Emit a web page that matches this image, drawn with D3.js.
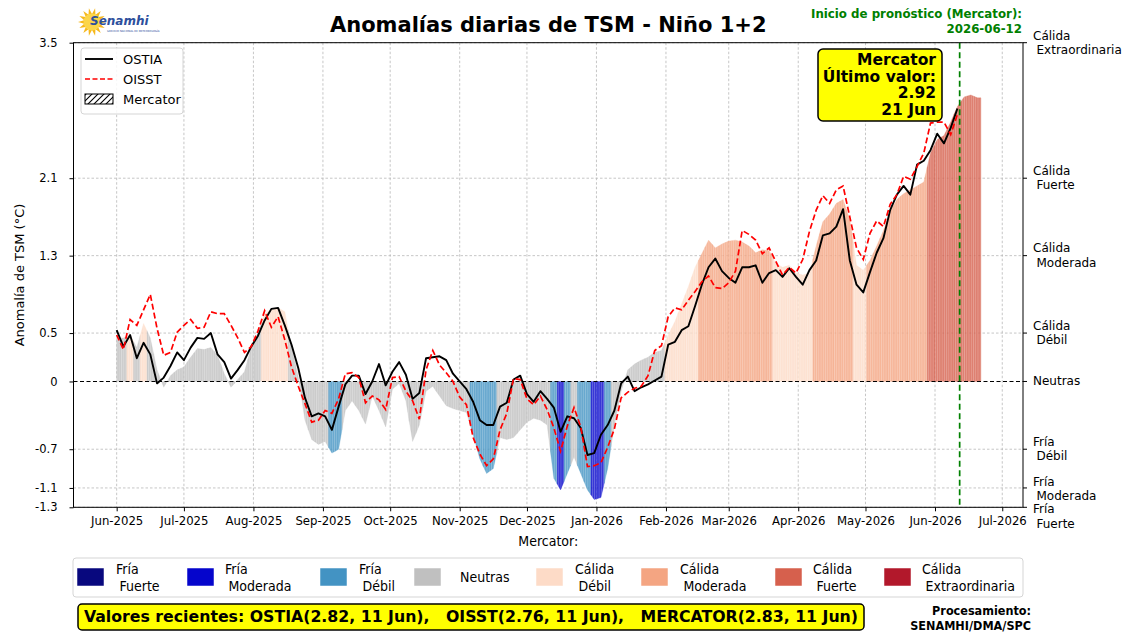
<!DOCTYPE html>
<html>
<head>
<meta charset="utf-8">
<script src="https://cdn.jsdelivr.net/npm/d3@7"></script>
<style>
  body { margin: 0; background: #fff; }
  svg text { font-family: "DejaVu Sans", sans-serif; fill: #000; }
  .cond { font-family: "DejaVu Sans Condensed", "DejaVu Sans", sans-serif; font-stretch: condensed; }
</style>
</head>
<body>
<svg id="chart" width="1125" height="632"></svg>
<script>
// ---- data (one sample every 3 days, starting 2025-06-01) ----
const startDate = Date.UTC(2025, 5, 1);
const stepDays = 3;

const ostia = [
  0.53, 0.36, 0.48, 0.24, 0.40, 0.28, -0.02, 0.04, 0.16, 0.30,
  0.22, 0.35, 0.45, 0.44, 0.50, 0.28, 0.20, 0.03, 0.12, 0.22,
  0.36, 0.47, 0.63, 0.75, 0.76, 0.58, 0.38, 0.14, -0.17, -0.36,
  -0.33, -0.36, -0.50, -0.26, -0.03, 0.06, 0.06, -0.13, 0.00, 0.18,
  -0.04, 0.10, 0.20, 0.07, -0.18, -0.12, 0.24, 0.25, 0.26, 0.22,
  0.08, 0.00, -0.08, -0.21, -0.40, -0.45, -0.45, -0.26, -0.22, 0.02,
  0.06, -0.13, -0.21, -0.10, -0.18, -0.27, -0.52, -0.36, -0.38, -0.48,
  -0.76, -0.74, -0.55, -0.45, -0.30, -0.02, 0.05, -0.10, -0.06, -0.03,
  0.01, 0.05, 0.38, 0.41, 0.53, 0.57, 0.78, 1.00, 1.18, 1.27,
  1.14, 1.07, 1.02, 1.18, 1.18, 1.20, 1.02, 1.12, 1.15, 1.08,
  1.17, 1.08, 1.00, 1.15, 1.25, 1.51, 1.53, 1.60, 1.78, 1.25,
  1.00, 0.92, 1.13, 1.33, 1.48, 1.77, 1.93, 2.02, 1.93, 2.24,
  2.28, 2.39, 2.56, 2.46, 2.62, 2.82
];

const oisst = [
  0.48, 0.33, 0.64, 0.58, 0.74, 0.90, 0.55, 0.27, 0.30, 0.51,
  0.58, 0.64, 0.55, 0.56, 0.72, 0.70, 0.70, 0.58, 0.45, 0.30,
  0.36, 0.52, 0.73, 0.56, 0.67, 0.43, 0.15, -0.05, -0.23, -0.42,
  -0.40, -0.30, -0.33, -0.18, 0.08, 0.09, 0.04, -0.22, -0.15, -0.19,
  -0.29, 0.04, 0.05, -0.10, -0.20, -0.39, 0.12, 0.32, 0.17, 0.09,
  0.00, -0.16, -0.24, -0.58, -0.75, -0.87, -0.80, -0.50, -0.33, 0.03,
  0.02, -0.18, -0.24, -0.15, -0.29, -0.48, -0.72, -0.46, -0.27, -0.47,
  -0.88, -0.87, -0.84, -0.68, -0.49, -0.17, -0.11, -0.07, -0.05, 0.06,
  0.32, 0.37, 0.67, 0.76, 0.74, 0.84, 0.93, 1.03, 1.09, 0.97,
  0.96, 1.02, 1.14, 1.56, 1.52, 1.46, 1.32, 1.38, 1.24, 1.10,
  1.18, 1.12, 1.26, 1.55, 1.77, 1.92, 1.84, 1.98, 2.02, 1.70,
  1.38, 1.26, 1.53, 1.66, 1.60, 1.83, 1.93, 2.12, 2.09, 2.22,
  2.36, 2.67, 2.68, 2.68, 2.55, 2.76
];

const mercator = [
  0.45, 0.45, 0.48, 0.35, 0.60, 0.45, 0.12, -0.06, 0.06, 0.12,
  0.15, 0.25, 0.34, 0.33, 0.35, 0.27, 0.08, -0.06, 0.02, 0.10,
  0.35, 0.50, 0.70, 0.74, 0.76, 0.72, 0.35, 0.05, -0.40, -0.60,
  -0.65, -0.62, -0.74, -0.70, -0.30, -0.20, -0.30, -0.44, -0.15, -0.30,
  -0.47, -0.08, -0.02, -0.20, -0.62, -0.45, -0.10, -0.05, -0.15, -0.25,
  -0.28, -0.30, -0.32, -0.55, -0.80, -0.95, -0.90, -0.58, -0.60, -0.58,
  -0.50, -0.42, -0.38, -0.40, -0.45, -1.00, -1.12, -0.95, -0.78, -0.95,
  -1.12, -1.22, -1.20, -0.90, -0.45, -0.10, 0.12, 0.18, 0.22, 0.25,
  0.30, 0.32, 0.48, 0.62, 0.80, 0.98, 1.18, 1.32, 1.46, 1.38,
  1.42, 1.45, 1.46, 1.44, 1.40, 1.33, 1.36, 1.35, 1.22, 1.18,
  1.20, 1.12, 1.10, 1.12, 1.40, 1.65, 1.73, 1.84, 1.88, 1.67,
  1.20, 1.15, 1.25, 1.40, 1.56, 1.75, 1.88, 1.94, 1.98, 2.02,
  2.06, 2.36, 2.50, 2.54, 2.68, 2.84, 2.94, 2.96, 2.93
];

// category index of each Mercator bar (0 = Fría Fuerte ... 7 = Cálida Extraordinaria)
const mercatorCat = [
  3, 3, 4, 3, 4, 3, 3, 3, 3, 3,
  3, 3, 3, 3, 3, 3, 3, 3, 3, 3,
  3, 3, 4, 4, 4, 4, 3, 3, 3, 3,
  3, 3, 2, 2, 3, 3, 3, 3, 3, 3,
  3, 3, 3, 3, 3, 3, 3, 3, 3, 3,
  3, 3, 3, 2, 2, 2, 2, 3, 3, 3,
  3, 3, 3, 3, 3, 2, 1, 2, 3, 2,
  2, 1, 1, 2, 3, 3, 3, 3, 3, 3,
  3, 3, 4, 4, 4, 4, 4, 5, 5, 5,
  5, 5, 5, 5, 5, 5, 5, 5, 4, 4,
  4, 4, 4, 4, 5, 5, 5, 5, 5, 5,
  4, 4, 5, 5, 5, 5, 5, 5, 5, 5,
  5, 6, 6, 6, 6, 6, 6, 6, 6
];

const catNames = [
  ["Fría", "Fuerte"], ["Fría", "Moderada"], ["Fría", "Débil"], ["Neutras"],
  ["Cálida", "Débil"], ["Cálida", "Moderada"], ["Cálida", "Fuerte"], ["Cálida", "Extraordinaria"]
];
const catColors = ["#08087e", "#0505cc", "#4393c3", "#c0c0c0", "#fddbc7", "#f4a582", "#d6604d", "#b2182b"];

const yTicks = [3.5, 2.1, 1.3, 0.5, 0, -0.7, -1.1, -1.3];
const rightLabels = [
  ["Cálida", "Extraordinaria"], ["Cálida", "Fuerte"], ["Cálida", "Moderada"], ["Cálida", "Débil"],
  ["Neutras"], ["Fría", "Débil"], ["Fría", "Moderada"], ["Fría", "Fuerte"]
];
const forecastStart = Date.UTC(2026, 5, 12);
const lastMercator = { value: 2.92, label: "21 Jun" };
const recentText = "Valores recientes: OSTIA(2.82, 11 Jun),   OISST(2.76, 11 Jun),   MERCATOR(2.83, 11 Jun)";

// ---- layout ----
const DAY = 864e5;
const plotL = 73.5, plotR = 1023, plotT = 42.7, plotB = 507.3;
const svg = d3.select("#chart");

const x = d3.scaleUtc()
  .domain([new Date(startDate - 19.25 * DAY), new Date(startDate + 404.25 * DAY)])
  .range([plotL, plotR]);
const y = d3.scaleLinear().domain([-1.3, 3.5]).range([plotB, plotT]);
const dayPx = x(new Date(startDate + DAY)) - x(new Date(startDate));
const dateOf = t => new Date(startDate + t * stepDays * DAY);

const monthTicks = d3.utcMonth.range(new Date(startDate), new Date(Date.UTC(2026, 6, 2)));

const defs = svg.append("defs");
// hatch for the Mercator legend patch
const pat = defs.append("pattern").attr("id", "hatch").attr("patternUnits", "userSpaceOnUse")
  .attr("width", 6).attr("height", 6);
pat.append("path").attr("d", "M-1,7 L7,-1 M-4,4 L4,-4 M2,10 L10,2")
  .attr("stroke", "#000").attr("stroke-width", 1.1);
// thin daily stripes over the Mercator bars
const stripes = defs.append("pattern").attr("id", "stripes").attr("patternUnits", "userSpaceOnUse")
  .attr("x", x(new Date(startDate))).attr("width", dayPx).attr("height", 10);
stripes.append("rect").attr("width", 0.55).attr("height", 10).attr("fill", "#fff").attr("fill-opacity", 0.35);

// grid
const grid = svg.append("g");
grid.selectAll("line.gx").data(monthTicks).join("line")
  .attr("x1", d => x(d)).attr("x2", d => x(d)).attr("y1", plotT).attr("y2", plotB)
  .attr("stroke", "#b8b8b8").attr("stroke-width", 0.8).attr("stroke-dasharray", "2.5,2");
grid.selectAll("line.gy").data(yTicks.filter(d => d !== 0)).join("line")
  .attr("x1", plotL).attr("x2", plotR).attr("y1", d => y(d)).attr("y2", d => y(d))
  .attr("stroke", "#b8b8b8").attr("stroke-width", 0.8).attr("stroke-dasharray", "2.5,2");

// Mercator bars: each sample covers its own 3-day slot, top edge joined to its neighbours
const n = mercator.length;
const barShape = i => {
  const v = mercator[i];
  const a = i === 0 ? { t: 0, v } : { t: i - 0.5, v: (mercator[i - 1] + v) / 2 };
  const b = i === n - 1 ? { t: i + 0.5, v } : { t: i + 0.5, v: (mercator[i + 1] + v) / 2 };
  return [a, { t: i, v }, b];
};
const barArea = d3.area().x(p => x(dateOf(p.t))).y0(y(0)).y1(p => y(p.v));
const bars = svg.append("g");
bars.selectAll("path.bar").data(d3.range(n)).join("path").attr("class", "bar")
  .attr("d", i => barArea(barShape(i)))
  .attr("fill", i => catColors[mercatorCat[i]])
  .attr("fill-opacity", 0.8)
  .attr("stroke", i => catColors[mercatorCat[i]]).attr("stroke-opacity", 0.8).attr("stroke-width", 0.3);
bars.selectAll("path.str").data(d3.range(n)).join("path").attr("class", "str")
  .attr("d", i => barArea(barShape(i)))
  .attr("fill", "url(#stripes)");

// zero line
svg.append("line").attr("x1", plotL).attr("x2", plotR).attr("y1", y(0)).attr("y2", y(0))
  .attr("stroke", "#000").attr("stroke-width", 1.1).attr("stroke-dasharray", "4,2.5");

// series lines
const line = d3.line().x((d, i) => x(dateOf(i))).y(d => y(d));
svg.append("path").datum(ostia).attr("d", line)
  .attr("fill", "none").attr("stroke", "#000").attr("stroke-width", 1.9).attr("stroke-linejoin", "round");
svg.append("path").datum(oisst).attr("d", line)
  .attr("fill", "none").attr("stroke", "#ff0000").attr("stroke-width", 1.7).attr("stroke-dasharray", "6,3");

// forecast start line
svg.append("line").attr("x1", x(new Date(forecastStart))).attr("x2", x(new Date(forecastStart)))
  .attr("y1", plotT).attr("y2", plotB)
  .attr("stroke", "#008000").attr("stroke-width", 1.7).attr("stroke-dasharray", "6,3.5");

// frame
svg.append("rect").attr("x", plotL).attr("y", plotT).attr("width", plotR - plotL).attr("height", plotB - plotT)
  .attr("fill", "none").attr("stroke", "#000").attr("stroke-width", 1);

// left axis
const yAxis = svg.append("g").attr("transform", `translate(${plotL},0)`)
  .call(d3.axisLeft(y).tickValues(yTicks).tickSize(4).tickPadding(12).tickFormat(d => String(d)));
yAxis.select(".domain").remove();
yAxis.selectAll("text").attr("font-size", 11.5).attr("fill", "#222");

// right axis (categories); the lowest label sits a little below its tick, as in the source
const rightShift = [0, 0, 0, 0, 0, 0, 1, 9];
const rAxis = svg.append("g").attr("transform", `translate(${plotR},0)`);
rAxis.selectAll("line").data(yTicks).join("line")
  .attr("x1", 0).attr("x2", 4).attr("y1", d => y(d)).attr("y2", d => y(d)).attr("stroke", "#000");
rAxis.selectAll("g.lab").data(yTicks).join("g").attr("class", "lab")
  .each(function (d, i) {
    const lines = rightLabels[i];
    const g = d3.select(this);
    lines.forEach((t, k) => {
      g.append("text")
        .attr("x", 10 + (k > 0 ? 3.5 : 0))
        .attr("y", y(d) + rightShift[i] + (lines.length === 1 ? 0 : (k === 0 ? -7.2 : 7.2)))
        .attr("dominant-baseline", "central")
        .attr("font-size", 12).attr("fill", "#222").text(t);
    });
  });

// bottom axis
const xAxis = svg.append("g").attr("transform", `translate(0,${plotB})`)
  .call(d3.axisBottom(x).tickValues(monthTicks).tickSize(4).tickPadding(4).tickFormat(d3.utcFormat("%b-%Y")));
xAxis.select(".domain").remove();
xAxis.selectAll("text").attr("class", "cond").attr("font-size", 13).attr("fill", "#222");

// axis titles and title
svg.append("text").attr("transform", "translate(19,275) rotate(-90)").attr("text-anchor", "middle")
  .attr("dominant-baseline", "central").attr("font-size", 13).text("Anomalía de TSM (°C)");
svg.append("text").attr("class", "cond").attr("x", (plotL + plotR) / 2).attr("y", 541)
  .attr("text-anchor", "middle").attr("dominant-baseline", "central").attr("font-size", 14).text("Mercator:");
svg.append("text").attr("x", (plotL + plotR) / 2).attr("y", 25).attr("text-anchor", "middle")
  .attr("dominant-baseline", "central").attr("font-size", 21).attr("font-weight", "bold")
  .text("Anomalías diarias de TSM - Niño 1+2");

// forecast label
[["Inicio de pronóstico (Mercator):", 14], ["2026-06-12", 29]].forEach(([t, yy]) => {
  svg.append("text").attr("x", 1022).attr("y", yy).attr("text-anchor", "end")
    .attr("dominant-baseline", "central").attr("font-size", 11.8).attr("font-weight", "bold")
    .style("fill", "#008000").text(t);
});

// last value box
svg.append("rect").attr("x", 818).attr("y", 49).attr("width", 124).attr("height", 72).attr("rx", 5)
  .attr("fill", "#ffff00").attr("stroke", "#000").attr("stroke-width", 1.5);
["Mercator", "Último valor:", lastMercator.value.toFixed(2), lastMercator.label].forEach((t, k) => {
  svg.append("text").attr("x", 936).attr("y", 60 + k * 16.5).attr("text-anchor", "end")
    .attr("dominant-baseline", "central").attr("font-size", 15.5).attr("font-weight", "bold").text(t);
});

// top-left legend
const lg = svg.append("g");
lg.append("rect").attr("x", 81).attr("y", 48).attr("width", 102).attr("height", 66).attr("rx", 3)
  .attr("fill", "#fff").attr("fill-opacity", 0.85).attr("stroke", "#d5d5d5");
lg.append("line").attr("x1", 85).attr("x2", 113).attr("y1", 59).attr("y2", 59).attr("stroke", "#000").attr("stroke-width", 1.9);
lg.append("line").attr("x1", 85).attr("x2", 113).attr("y1", 79).attr("y2", 79).attr("stroke", "#ff0000")
  .attr("stroke-width", 1.7).attr("stroke-dasharray", "5,2.5");
lg.append("rect").attr("x", 85).attr("y", 94).attr("width", 28).attr("height", 10)
  .attr("fill", "url(#hatch)").attr("stroke", "#000").attr("stroke-width", 1);
[["OSTIA", 59], ["OISST", 79], ["Mercator", 99]].forEach(([t, yy]) => {
  lg.append("text").attr("x", 123).attr("y", yy).attr("dominant-baseline", "central")
    .attr("font-size", 13).text(t);
});

// bottom category legend
const bl = svg.append("g");
bl.append("rect").attr("x", 73).attr("y", 558).attr("width", 950).attr("height", 39).attr("rx", 3)
  .attr("fill", "#fff").attr("stroke", "#d5d5d5");
const legSq = [77, 187, 320, 414, 536, 641, 775, 884];
const legTx = [116, 225, 359, 460, 575, 680, 813, 922];
catColors.forEach((c, i) => {
  bl.append("rect").attr("x", legSq[i]).attr("y", 568).attr("width", 27).attr("height", 18)
    .attr("fill", c).attr("stroke", "#fff").attr("stroke-width", 0.5);
  const lines = catNames[i];
  lines.forEach((t, k) => {
    bl.append("text").attr("class", "cond")
      .attr("x", legTx[i] + (k > 0 ? 3.5 : 0))
      .attr("y", lines.length === 1 ? 577 : (k === 0 ? 569 : 586))
      .attr("dominant-baseline", "central").attr("font-size", 14).text(t);
  });
});

// recent values box
svg.append("rect").attr("x", 78).attr("y", 604).attr("width", 786).attr("height", 26).attr("rx", 4)
  .attr("fill", "#ffff00").attr("stroke", "#000").attr("stroke-width", 1.5);
svg.append("text").attr("class", "cond").attr("x", 84).attr("y", 617)
  .attr("dominant-baseline", "central").attr("font-size", 15).attr("font-weight", "bold")
  .attr("textLength", 774).attr("lengthAdjust", "spacingAndGlyphs")
  .style("white-space", "pre").text(recentText);

[["Procesamiento:", 610], ["SENAMHI/DMA/SPC", 625]].forEach(([t, yy]) => {
  svg.append("text").attr("x", 1031).attr("y", yy).attr("text-anchor", "end").attr("class", "cond")
    .attr("dominant-baseline", "central").attr("font-size", 12.5).attr("font-weight", "bold").text(t);
});

// logo
const logo = svg.append("g").attr("transform", "translate(92,22)");
logo.selectAll("path").data(d3.range(14)).join("path")
  .attr("d", k => {
    const a = k * 2 * Math.PI / 14, w = 0.22;
    return `M${Math.cos(a - w) * 8},${Math.sin(a - w) * 8} L${Math.cos(a) * 14},${Math.sin(a) * 14} L${Math.cos(a + w) * 8},${Math.sin(a + w) * 8}Z`;
  })
  .attr("fill", "#f6b81c");
logo.append("circle").attr("r", 8.5).attr("fill", "#fbd54a");
svg.append("text").attr("x", 90).attr("y", 21).attr("dominant-baseline", "central")
  .attr("font-size", 12).attr("font-weight", "bold").attr("font-style", "italic")
  .style("fill", "#2d4f9c").text("Senamhi");
svg.append("text").attr("x", 107).attr("y", 31.5).attr("font-size", 2.6).style("fill", "#2d4f9c")
  .text("SERVICIO NACIONAL DE METEOROLOGÍA");
</script>
</body>
</html>
